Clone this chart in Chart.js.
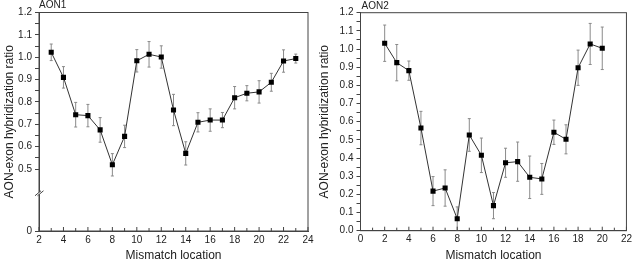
<!DOCTYPE html>
<html>
<head>
<meta charset="utf-8">
<script src="https://cdn.jsdelivr.net/npm/chart.js@4.4.0/dist/chart.umd.min.js"></script>
<style>
  html, body { margin: 0; padding: 0; background: #fff; }
  #wrap { position: relative; width: 635px; height: 263px; }
  .box { position: absolute; top: 0; height: 263px; }
</style>
</head>
<body>
<div id="wrap">
  <div class="box" style="left:0;width:317px"><canvas id="chart1" width="317" height="263"></canvas></div>
  <div class="box" style="left:317px;width:318px"><canvas id="chart2" width="318" height="263"></canvas></div>
</div>
<script>
// AON1 panel
const aon1Loc = [3, 4, 5, 6, 7, 8, 9, 10, 11, 12, 13, 14, 15, 16, 17, 18, 19, 20, 21, 22, 23];
const aon1Ratio = [1.022, 0.910, 0.743, 0.739, 0.675, 0.519, 0.646, 0.984, 1.013, 1.001, 0.764,
  0.570, 0.709, 0.719, 0.719, 0.819, 0.839, 0.845, 0.888, 0.983, 0.994];
const aon1Err = [0.037, 0.048, 0.055, 0.050, 0.055, 0.050, 0.050, 0.050, 0.057, 0.050, 0.070,
  0.052, 0.043, 0.050, 0.034, 0.050, 0.034, 0.050, 0.040, 0.050, 0.020];
const aon1XTicks = [2, 4, 6, 8, 10, 12, 14, 16, 18, 20, 22, 24];
const aon1YTicks = [0.5, 0.6, 0.7, 0.8, 0.9, 1.0, 1.1, 1.2];

// AON2 panel
const aon2Loc = [2, 3, 4, 5, 6, 7, 8, 9, 10, 11, 12, 13, 14, 15, 16, 17, 18, 19, 20];
const aon2Ratio = [1.032, 0.925, 0.881, 0.565, 0.218, 0.235, 0.066, 0.527, 0.415, 0.138,
  0.374, 0.380, 0.294, 0.285, 0.542, 0.503, 0.897, 1.028, 1.004];
const aon2Err = [0.100, 0.100, 0.053, 0.092, 0.080, 0.100, 0.065, 0.090, 0.095, 0.072,
  0.080, 0.108, 0.117, 0.085, 0.067, 0.080, 0.097, 0.113, 0.117];
const aon2XTicks = [0, 2, 4, 6, 8, 10, 12, 14, 16, 18, 20, 22];
const aon2YTicks = [0.0, 0.1, 0.2, 0.3, 0.4, 0.5, 0.6, 0.7, 0.8, 0.9, 1.0, 1.1, 1.2];

const FONT = "'Liberation Sans', Arial, sans-serif";
const AXIS = '#444';
const TEXT = '#222';

// error bars, box, inward x ticks, panel label, axis break
function panelPlugin(cfg) {
  return {
    id: 'panel',
    beforeDatasetsDraw(chart) {
      const ctx = chart.ctx, xs = chart.scales.x, ys = chart.scales.y;
      ctx.save();
      ctx.strokeStyle = '#8a8a8a';
      ctx.lineWidth = 1;
      cfg.loc.forEach((x, i) => {
        const px = xs.getPixelForValue(x);
        const top = ys.getPixelForValue(cfg.ratio[i] + cfg.err[i]);
        const bot = ys.getPixelForValue(Math.max(cfg.ratio[i] - cfg.err[i], ys.min));
        ctx.beginPath();
        ctx.moveTo(px, top); ctx.lineTo(px, bot);
        ctx.moveTo(px - 1.5, top); ctx.lineTo(px + 1.5, top);
        ctx.moveTo(px - 1.5, bot); ctx.lineTo(px + 1.5, bot);
        ctx.stroke();
      });
      ctx.restore();
    },
    afterDraw(chart) {
      const ctx = chart.ctx, a = chart.chartArea, xs = chart.scales.x, ys = chart.scales.y;
      ctx.save();
      ctx.strokeStyle = AXIS;
      ctx.lineWidth = 1;
      ctx.strokeRect(a.left, a.top, a.right - a.left, a.bottom - a.top);
      // x ticks, major and minor, pointing into the plot
      ctx.beginPath();
      for (let v = xs.min; v <= xs.max; v++) {
        const px = xs.getPixelForValue(v);
        const len = v % 2 === 0 ? 4 : 3;
        ctx.moveTo(px, a.bottom); ctx.lineTo(px, a.bottom - len);
      }
      ctx.stroke();
      if (cfg.breakAt !== undefined) {
        const by = ys.getPixelForValue(cfg.breakAt);
        const x0 = a.left;
        ctx.fillStyle = '#fff';
        ctx.beginPath();
        ctx.moveTo(x0 - 4, by + 3); ctx.lineTo(x0 + 2, by - 2);
        ctx.lineTo(x0 + 4.5, by - 2); ctx.lineTo(x0 - 1.5, by + 3);
        ctx.closePath();
        ctx.fill();
        ctx.beginPath();
        ctx.moveTo(x0 - 4, by + 3); ctx.lineTo(x0 + 2, by - 2);
        ctx.moveTo(x0 - 1.5, by + 3); ctx.lineTo(x0 + 4.5, by - 2);
        ctx.stroke();
      }
      ctx.fillStyle = TEXT;
      ctx.font = '10px ' + FONT;
      ctx.textAlign = 'left';
      ctx.textBaseline = 'middle';
      ctx.fillText(cfg.label, a.left + cfg.labelDx, cfg.labelY);
      ctx.restore();
    }
  };
}

function makeChart(id, cfg) {
  const yMajor = cfg.yTicks;
  return new Chart(document.getElementById(id), {
    type: 'line',
    data: {
      datasets: [{
        data: cfg.loc.map((x, i) => ({ x: x, y: cfg.ratio[i] })),
        borderColor: '#333',
        borderWidth: 1,
        tension: 0,
        pointStyle: 'rect',
        pointRadius: 3.6,
        pointBackgroundColor: '#000',
        pointBorderColor: '#000',
        pointBorderWidth: 0
      }]
    },
    options: {
      responsive: false,
      animation: false,
      events: [],
      layout: { padding: { top: cfg.padTop, right: cfg.padRight, bottom: 0, left: 0 } },
      plugins: { legend: { display: false }, tooltip: { enabled: false } },
      scales: {
        x: {
          type: 'linear',
          min: cfg.xTicks[0],
          max: cfg.xTicks[cfg.xTicks.length - 1],
          afterFit: (s) => { s.height = cfg.xHeight; },
          afterBuildTicks: (s) => { s.ticks = cfg.xTicks.map(v => ({ value: v })); },
          ticks: {
            callback: (v) => String(v),
            padding: 3,
            autoSkip: false,
            maxRotation: 0,
            color: TEXT,
            font: { family: FONT, size: 10 }
          },
          grid: { display: true, drawOnChartArea: false, drawTicks: false },
          border: { color: AXIS },
          title: {
            display: true,
            text: 'Mismatch location',
            color: TEXT,
            font: { family: FONT, size: 12 },
            padding: { top: 0, bottom: 0 }
          }
        },
        y: {
          type: 'linear',
          min: cfg.yMin,
          max: yMajor[yMajor.length - 1],
          afterFit: (s) => { s.width = cfg.yWidth; },
          afterBuildTicks: (s) => {
            const t = [];
            if (cfg.breakAt !== undefined) t.push({ value: cfg.yMin, lbl: '0' });
            yMajor.forEach((v, i) => {
              t.push({ value: v, lbl: v.toFixed(1) });
              if (i < yMajor.length - 1) t.push({ value: (v + yMajor[i + 1]) / 2, lbl: '' });
            });
            s.ticks = t;
          },
          ticks: {
            callback: (v, i, t) => t[i].lbl,
            padding: 3,
            autoSkip: false,
            color: TEXT,
            font: { family: FONT, size: 10 }
          },
          grid: { display: true, drawOnChartArea: false, drawTicks: true, tickLength: 4, color: AXIS },
          border: { color: AXIS },
          title: {
            display: true,
            text: 'AON-exon hybridization ratio',
            color: TEXT,
            font: { family: FONT, size: 12 },
            padding: { top: cfg.yTitlePad, bottom: 0 }
          }
        }
      }
    },
    plugins: [panelPlugin(cfg)]
  });
}

makeChart('chart1', {
  loc: aon1Loc, ratio: aon1Ratio, err: aon1Err,
  xTicks: aon1XTicks, yTicks: aon1YTicks,
  yMin: 0.223, breakAt: 0.394,
  padTop: 12.5, padRight: 9, yWidth: 39, xHeight: 32, yTitlePad: 2.3,
  label: 'AON1', labelDx: 0, labelY: 5
});

makeChart('chart2', {
  loc: aon2Loc, ratio: aon2Ratio, err: aon2Err,
  xTicks: aon2XTicks, yTicks: aon2YTicks,
  yMin: 0,
  padTop: 12.7, padRight: 5.5, yWidth: 43.5, xHeight: 32.3, yTitlePad: 0.5,
  label: 'AON2', labelDx: 1, labelY: 6
});
</script>
</body>
</html>
